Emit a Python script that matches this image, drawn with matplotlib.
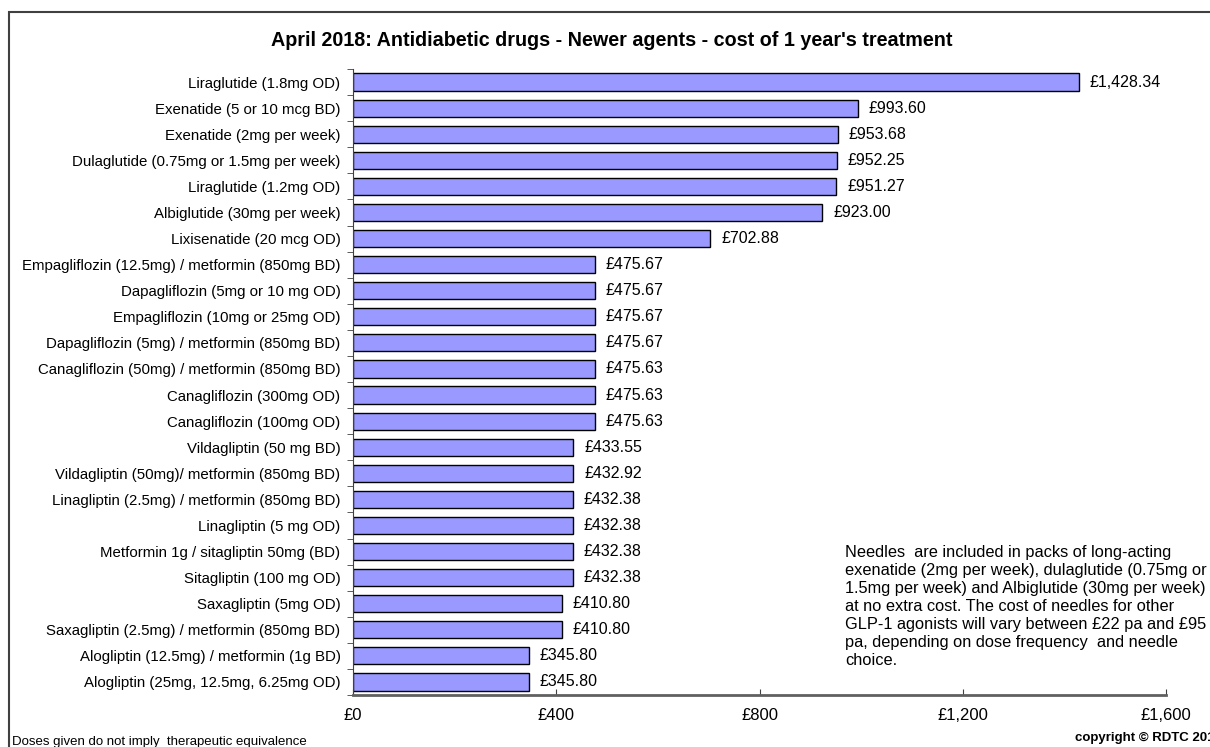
import matplotlib.pyplot as plt
from matplotlib.patches import Rectangle
import numpy as np

plt.rcParams['font.family'] = ['Liberation Sans', 'DejaVu Sans']

# Drugs listed top to bottom, cost of 1 year's treatment in GBP
drugs = [
    "Liraglutide (1.8mg OD)",
    "Exenatide (5 or 10 mcg BD)",
    "Exenatide (2mg per week)",
    "Dulaglutide (0.75mg or 1.5mg per week)",
    "Liraglutide (1.2mg OD)",
    "Albiglutide (30mg per week)",
    "Lixisenatide (20 mcg OD)",
    "Empagliflozin (12.5mg) / metformin (850mg BD)",
    "Dapagliflozin (5mg or 10 mg OD)",
    "Empagliflozin (10mg or 25mg OD)",
    "Dapagliflozin (5mg) / metformin (850mg BD)",
    "Canagliflozin (50mg) / metformin (850mg BD)",
    "Canagliflozin (300mg OD)",
    "Canagliflozin (100mg OD)",
    "Vildagliptin (50 mg BD)",
    "Vildagliptin (50mg)/ metformin (850mg BD)",
    "Linagliptin (2.5mg) / metformin (850mg BD)",
    "Linagliptin (5 mg OD)",
    "Metformin 1g / sitagliptin 50mg (BD)",
    "Sitagliptin (100 mg OD)",
    "Saxagliptin (5mg OD)",
    "Saxagliptin (2.5mg) / metformin (850mg BD)",
    "Alogliptin (12.5mg) / metformin (1g BD)",
    "Alogliptin (25mg, 12.5mg, 6.25mg OD)",
]
costs = [1428.34, 993.60, 953.68, 952.25, 951.27, 923.00, 702.88,
         475.67, 475.67, 475.67, 475.67, 475.63, 475.63, 475.63,
         433.55, 432.92, 432.38, 432.38, 432.38, 432.38,
         410.80, 410.80, 345.80, 345.80]
xticks = [0, 400, 800, 1200, 1600]
xtick_labels = ["£0", "£400", "£800", "£1,200", "£1,600"]

note = ("Needles  are included in packs of long-acting\n"
        "exenatide (2mg per week), dulaglutide (0.75mg or\n"
        "1.5mg per week) and Albiglutide (30mg per week)\n"
        "at no extra cost. The cost of needles for other\n"
        "GLP-1 agonists will vary between £22 pa and £95\n"
        "pa, depending on dose frequency  and needle\n"
        "choice.")

fig = plt.figure(figsize=(12.1, 7.47), dpi=100)
ax = fig.add_axes([353 / 1210, 1 - 695 / 747, (1166 - 353) / 1210, (695 - 69) / 747])

y = np.arange(len(drugs))
ax.barh(y, costs, height=0.66, color='#9999FF', edgecolor='black', linewidth=1.0)
for yi, c in zip(y, costs):
    ax.annotate(f"£{c:,.2f}", (c, yi), xytext=(8, 0), textcoords='offset points',
                va='center', ha='left', fontsize=11.5)

ax.set_ylim(len(drugs) - 0.5, -0.5)
ax.set_xlim(0, 1600)
ax.set_yticks(y)
ax.set_yticklabels(drugs, fontsize=10.8)
ax.set_yticks(np.arange(len(drugs) + 1) - 0.5, minor=True)
ax.tick_params(axis='y', which='major', length=0, pad=9)
ax.tick_params(axis='y', which='minor', length=4, direction='out', color='#404040')
ax.set_xticks(xticks)
ax.set_xticklabels(xtick_labels, fontsize=12)
ax.tick_params(axis='x', length=4, direction='in', pad=9, color='#404040')

for s in ['top', 'right']:
    ax.spines[s].set_visible(False)
ax.spines['left'].set_color('#404040')
ax.spines['bottom'].set_color('#606060')
ax.spines['bottom'].set_linewidth(2)

fig.text(612 / 1210, 1 - 40 / 747,
         "April 2018: Antidiabetic drugs - Newer agents - cost of 1 year's treatment",
         ha='center', va='center', fontsize=14.2, fontweight='bold')
fig.text(845 / 1210, 1 - 545 / 747, note, ha='left', va='top', fontsize=11.8,
         linespacing=1.25)
fig.text(12 / 1210, 1 - 742 / 747, "Doses given do not imply  therapeutic equivalence",
         ha='left', va='center', fontsize=9.5)
fig.text(1075 / 1210, 1 - 738 / 747, "copyright © RDTC 2018",
         ha='left', va='center', fontsize=9.5, fontweight='bold')

# outer frame, running off the right and bottom edges
fig.patches.append(Rectangle((9 / 1210, -0.1), 1.2, 1.1 - 12 / 747,
                             transform=fig.transFigure, fill=False,
                             edgecolor='#404040', linewidth=1.5))

fig.savefig('out.png', dpi=100)
